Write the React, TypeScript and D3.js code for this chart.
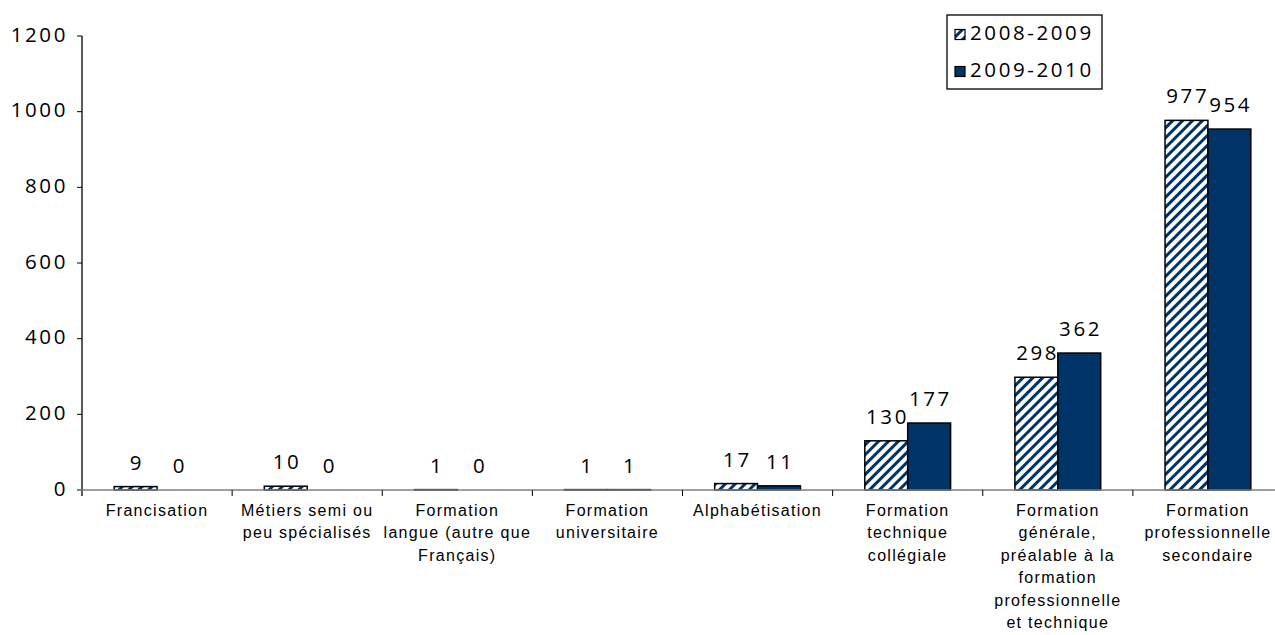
import React from 'react';
import * as d3 from 'd3';

const categories = [
  'Francisation',
  'Métiers semi ou peu spécialisés',
  'Formation langue (autre que Français)',
  'Formation universitaire',
  'Alphabétisation',
  'Formation technique collégiale',
  'Formation générale, préalable à la formation professionnelle et technique',
  'Formation professionnelle secondaire',
];
// wrapped the way the original shows them
const categoryLines = [
  ['Francisation'],
  ['Métiers semi ou', 'peu spécialisés'],
  ['Formation', 'langue (autre que', 'Français)'],
  ['Formation', 'universitaire'],
  ['Alphabétisation'],
  ['Formation', 'technique', 'collégiale'],
  ['Formation', 'générale,', 'préalable à la', 'formation', 'professionnelle', 'et technique'],
  ['Formation', 'professionnelle', 'secondaire'],
];
const series = ['2008-2009', '2009-2010'];
const values2008 = [9, 10, 1, 1, 17, 130, 298, 977];
const values2009 = [0, 0, 0, 1, 11, 177, 362, 954];
const yTicks = [0, 200, 400, 600, 800, 1000, 1200];

const NAVY = '#003366';
const numFont = '"Open Sans", sans-serif';
const catFont = '"Liberation Sans", Arial, sans-serif';
const numSize = 20.5;
const numSpacing = 2.6;

export default function App() {
  const width = 1275;
  const height = 635;

  const y = d3.scaleLinear().domain([0, 1200]).range([490, 36]);
  const x0 = d3.scaleBand<string>().domain(categories).range([82, 1283]).padding(0);
  const x1 = d3
    .scaleBand<string>()
    .domain(series)
    .range([0, x0.bandwidth()])
    .paddingInner(0)
    .paddingOuter(0.75);

  const data = [values2008, values2009];
  const fills = ['url(#hatch)', NAVY];

  return (
    <svg
      width={width}
      height={height}
      style={{ position: 'absolute', left: 0, top: 0, background: '#fff' }}
    >
      <defs>
        <pattern
          id="hatch"
          patternUnits="userSpaceOnUse"
          width={7}
          height={7}
          patternTransform="rotate(45)"
        >
          <rect width={7} height={7} fill="#fff" />
          <rect width={3} height={7} fill={NAVY} />
        </pattern>
      </defs>

      {/* eje y */}
      <line x1={82} x2={82} y1={36} y2={496} stroke="#000" strokeWidth={1.3} />
      {yTicks.map((t) => (
        <g key={t}>
          <line x1={77} x2={82} y1={y(t)} y2={y(t)} stroke="#000" strokeWidth={1} />
          <text
            x={68}
            y={y(t) + 5.7}
            textAnchor="end"
            fontFamily={numFont}
            fontSize={numSize}
            letterSpacing={numSpacing}
            fill="#000"
          >
            {t}
          </text>
        </g>
      ))}

      {/* barras */}
      {categories.map((c, i) => (
        <g key={c} transform={`translate(${x0(c)},0)`}>
          {series.map((s, j) => {
            const v = data[j][i];
            const bx = x1(s) as number;
            const top = y(v);
            return (
              <g key={s}>
                {v > 0 && (
                  <rect
                    x={bx}
                    y={top}
                    width={x1.bandwidth()}
                    height={y(0) - top}
                    fill={fills[j]}
                    stroke="#000"
                    strokeWidth={1.5}
                  />
                )}
                <text
                  x={bx + x1.bandwidth() / 2 + numSpacing / 2}
                  y={top - 17}
                  textAnchor="middle"
                  fontFamily={numFont}
                  fontSize={numSize}
                  letterSpacing={numSpacing}
                  fill="#000"
                >
                  {v}
                </text>
              </g>
            );
          })}
        </g>
      ))}

      {/* eje x */}
      <line x1={77} x2={width} y1={490} y2={490} stroke="#808080" strokeWidth={1.5} />
      {categories.map((c) => (
        <line
          key={'t' + c}
          x1={(x0(c) as number) + x0.bandwidth()}
          x2={(x0(c) as number) + x0.bandwidth()}
          y1={490}
          y2={496}
          stroke="#000"
          strokeWidth={1}
        />
      ))}
      {categories.map((c, i) => (
        <text
          key={'l' + c}
          x={(x0(c) as number) + x0.bandwidth() / 2}
          y={516}
          textAnchor="middle"
          fontFamily={catFont}
          fontSize={16}
          letterSpacing={1.3}
          fill="#000"
        >
          {categoryLines[i].map((ln, k) => (
            <tspan key={k} x={(x0(c) as number) + x0.bandwidth() / 2} dy={k === 0 ? 0 : 22.4}>
              {ln}
            </tspan>
          ))}
        </text>
      ))}

      {/* leyenda */}
      <rect x={947} y={15} width={155} height={74} fill="#fff" stroke="#000" strokeWidth={1.3} />
      {series.map((s, j) => (
        <g key={'lg' + s}>
          <rect
            x={955}
            y={29.5 + j * 37}
            width={10}
            height={10}
            fill={fills[j]}
            stroke="#000"
            strokeWidth={1.2}
          />
          <text
            x={970}
            y={40 + j * 36.5}
            fontFamily={numFont}
            fontSize={numSize}
            letterSpacing={numSpacing}
            fill="#000"
          >
            {s}
          </text>
        </g>
      ))}
    </svg>
  );
}
